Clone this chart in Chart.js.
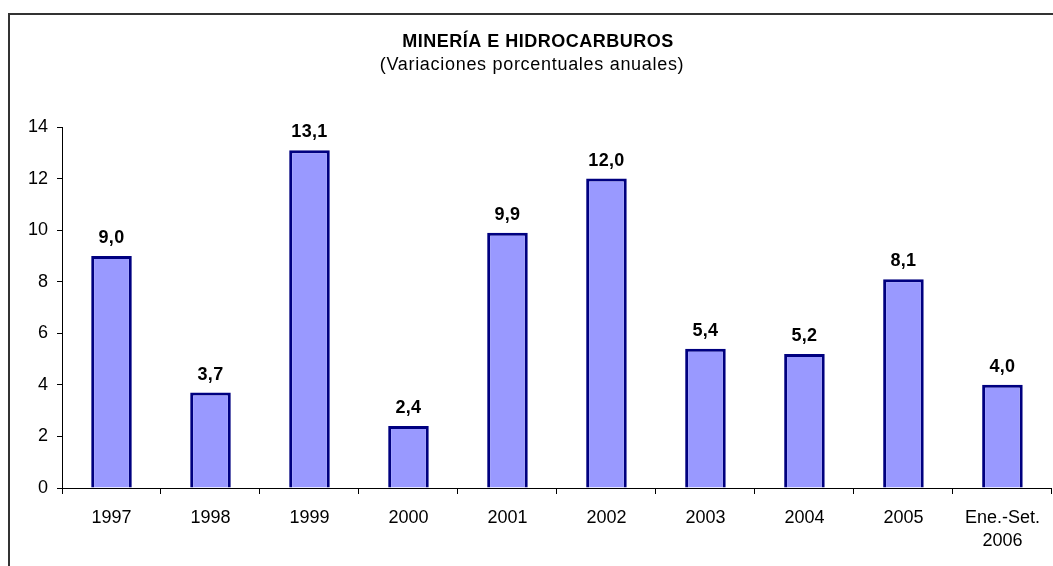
<!DOCTYPE html>
<html>
<head>
<meta charset="utf-8">
<script src="https://cdn.jsdelivr.net/npm/chart.js@4/dist/chart.umd.min.js"></script>
<style>
  html, body { margin: 0; padding: 0; background: #fff; overflow: hidden; }
  #wrap { position: relative; width: 1053px; height: 566px; }
  #frame { position: absolute; left: 8px; top: 13px; width: 1100px; height: 600px;
           border-left: 2px solid #333; border-top: 2px solid #333; }
  #chart { position: absolute; left: 0; top: 0; }
</style>
</head>
<body>
<div id="wrap">
  <div id="frame"></div>
  <canvas id="chart" width="1053" height="566"></canvas>
</div>
<script>
const titleText = "MINERÍA E HIDROCARBUROS";
const subtitleText = "(Variaciones porcentuales anuales)";
const years = ["1997", "1998", "1999", "2000", "2001", "2002", "2003", "2004", "2005", ["Ene.-Set.", "2006"]];
const growth = [9.0, 3.7, 13.1, 2.4, 9.9, 12.0, 5.4, 5.2, 8.1, 4.0];
const yTicks = [0, 2, 4, 6, 8, 10, 12, 14];

const FONT = "'Liberation Sans', Arial, sans-serif";

// title, subtitle and the value over each bar
const labelsPlugin = {
  id: "labels",
  afterDraw(chart) {
    const ctx = chart.ctx;
    ctx.save();
    ctx.fillStyle = "#000";
    ctx.textAlign = "center";
    ctx.textBaseline = "alphabetic";
    ctx.letterSpacing = "0.5px";
    ctx.font = "bold 18px " + FONT;
    ctx.fillText(titleText, 538, 47);
    ctx.letterSpacing = "0.7px";
    ctx.font = "18px " + FONT;
    ctx.fillText(subtitleText, 532, 70);

    ctx.letterSpacing = "0.3px";
    ctx.font = "bold 18px " + FONT;
    chart.getDatasetMeta(0).data.forEach((bar, i) => {
      ctx.fillText(growth[i].toFixed(1).replace(".", ","), bar.x, bar.y - 13);
    });
    ctx.restore();
  }
};

new Chart(document.getElementById("chart"), {
  type: "bar",
  data: {
    labels: years,
    datasets: [{
      data: growth,
      backgroundColor: "#9999FF",
      borderColor: "#000080",
      borderWidth: 3,
      barPercentage: 0.41,
      categoryPercentage: 1
    }]
  },
  options: {
    responsive: false,
    animation: false,
    layout: { padding: { top: 127, right: 1, left: 0, bottom: 0 } },
    plugins: { legend: { display: false }, tooltip: { enabled: false } },
    scales: {
      x: {
        offset: true,
        grid: { offset: true, drawOnChartArea: false, drawTicks: true, tickLength: 6, color: "#000" },
        border: { color: "#000", width: 1 },
        ticks: { color: "#000", font: { family: FONT, size: 18, lineHeight: 1.25 }, padding: 13, maxRotation: 0, autoSkip: false },
        afterFit(scale) { scale.height = 78; }
      },
      y: {
        min: 0,
        max: 14,
        afterBuildTicks(scale) { scale.ticks = yTicks.map(v => ({ value: v })); },
        grid: { drawOnChartArea: false, drawTicks: true, tickLength: 5, color: "#000" },
        border: { color: "#000", width: 1 },
        ticks: { color: "#000", font: { family: FONT, size: 18 }, padding: 9 },
        afterFit(scale) { scale.width = 62; }
      }
    }
  },
  plugins: [labelsPlugin]
});
</script>
</body>
</html>
